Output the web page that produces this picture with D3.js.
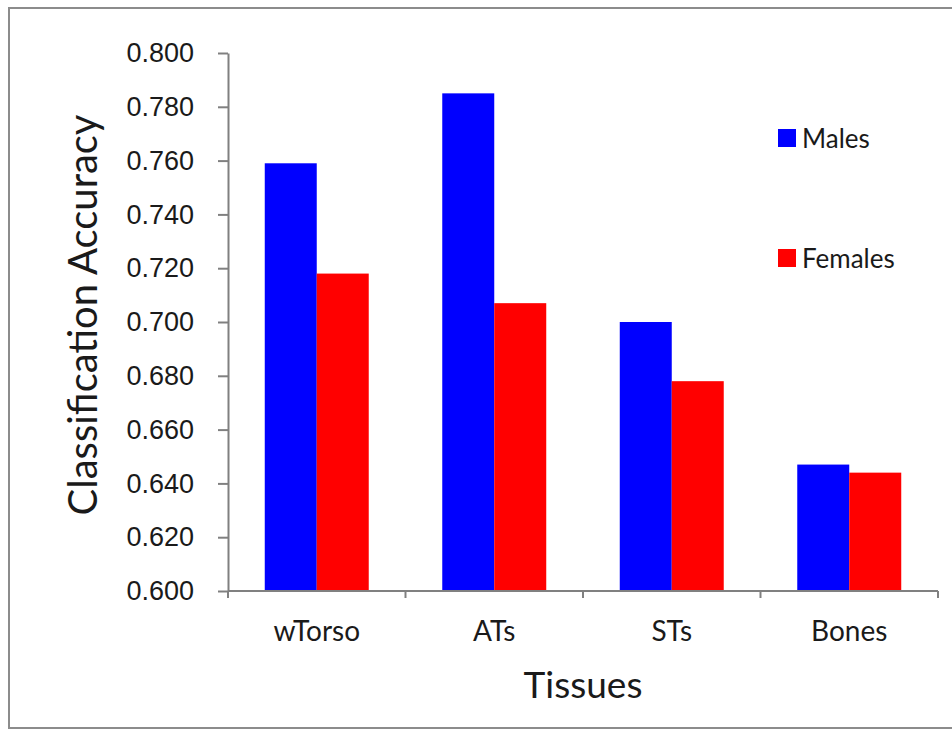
<!DOCTYPE html>
<html>
<head>
<meta charset="utf-8">
<script src="https://cdn.jsdelivr.net/npm/d3@7"></script>
<style>
  html, body { margin: 0; padding: 0; background: #fff; }
  svg { display: block; }
</style>
</head>
<body>
<svg id="chart" width="952" height="731"></svg>
<script>
const categories = ["wTorso", "ATs", "STs", "Bones"];
const seriesNames = ["Males", "Females"];
const malesValues = [0.759, 0.785, 0.700, 0.647];
const femalesValues = [0.718, 0.707, 0.678, 0.644];
const yTicks = [0.600, 0.620, 0.640, 0.660, 0.680, 0.700, 0.720, 0.740, 0.760, 0.780, 0.800];
const seriesColors = ["#0000ff", "#ff0000"];

const svg = d3.select("#chart");

// outer frame
svg.append("rect")
  .attr("x", 9).attr("y", 8)
  .attr("width", 960).attr("height", 720)
  .attr("fill", "#fff")
  .attr("stroke", "#8c8c8c")
  .attr("stroke-width", 2);

const plotLeft = 228, plotRight = 938, plotTop = 53, plotBottom = 591;

const y = d3.scaleLinear().domain([0.6, 0.8]).range([plotBottom, plotTop]);
const x0 = d3.scaleBand().domain(categories).range([plotLeft, plotRight]).padding(0);
const x1 = d3.scaleBand().domain(seriesNames).range([0, x0.bandwidth()])
  .paddingInner(0).paddingOuter(0.707);

const data = categories.map((c, i) => ({
  cat: c,
  vals: [
    { s: "Males", v: malesValues[i], color: seriesColors[0] },
    { s: "Females", v: femalesValues[i], color: seriesColors[1] }
  ]
}));

// bars
const groups = svg.append("g").selectAll("g").data(data).join("g")
  .attr("transform", d => `translate(${x0(d.cat)},0)`);
groups.selectAll("rect").data(d => d.vals).join("rect")
  .attr("x", d => x1(d.s))
  .attr("width", x1.bandwidth())
  .attr("y", d => y(d.v))
  .attr("height", d => y(0.6) - y(d.v))
  .attr("fill", d => d.color);

// y axis
const yAxis = svg.append("g")
  .attr("transform", `translate(${plotLeft},0)`)
  .call(d3.axisLeft(y).tickValues(yTicks).tickFormat(d3.format(".3f")).tickSize(10).tickSizeOuter(0).tickPadding(24));
yAxis.select(".domain").attr("stroke", "#808080").attr("stroke-width", 2);
yAxis.selectAll(".tick line").attr("stroke", "#808080").attr("stroke-width", 2);
yAxis.selectAll(".tick text")
  .attr("font-family", "'Liberation Sans', Arial, sans-serif")
  .attr("font-size", 27)
  .attr("fill", "#1a1a1a");

// x axis: baseline, boundary ticks, labels
const xAxis = svg.append("g").attr("transform", `translate(0,${plotBottom})`);
xAxis.append("line")
  .attr("x1", plotLeft).attr("x2", plotRight)
  .attr("stroke", "#808080").attr("stroke-width", 2);
const boundaries = categories.map(c => x0(c)).concat([x0(categories[categories.length - 1]) + x0.bandwidth()]);
xAxis.selectAll("line.btick").data(boundaries).join("line")
  .attr("class", "btick")
  .attr("x1", d => d).attr("x2", d => d)
  .attr("y1", 0).attr("y2", 7)
  .attr("stroke", "#808080").attr("stroke-width", 2);
xAxis.selectAll("text.cat").data(categories).join("text")
  .attr("class", "cat")
  .attr("x", d => x0(d) + x0.bandwidth() / 2)
  .attr("y", 50)
  .attr("text-anchor", "middle")
  .attr("font-family", "Lato, sans-serif")
  .attr("font-size", 28)
  .attr("fill", "#1a1a1a")
  .text(d => d);

// axis titles
svg.append("text")
  .attr("x", (plotLeft + plotRight) / 2)
  .attr("y", 698)
  .attr("text-anchor", "middle")
  .attr("font-family", "Lato, sans-serif")
  .attr("font-size", 37)
  .attr("fill", "#1a1a1a")
  .text("Tissues");

svg.append("text")
  .attr("transform", `translate(97,${(plotTop + plotBottom) / 2 - 7}) rotate(-90)`)
  .attr("text-anchor", "middle")
  .attr("font-family", "Lato, sans-serif")
  .attr("font-size", 40)
  .attr("fill", "#1a1a1a")
  .text("Classification Accuracy");

// legend
const legendY = [129, 249];
const legend = svg.append("g").selectAll("g").data(seriesNames).join("g")
  .attr("transform", (d, i) => `translate(778,${legendY[i]})`);
legend.append("rect")
  .attr("width", 18).attr("height", 18)
  .attr("fill", (d, i) => seriesColors[i]);
legend.append("text")
  .attr("x", 24).attr("y", 19)
  .attr("font-family", "Lato, sans-serif")
  .attr("font-size", 26)
  .attr("fill", "#1a1a1a")
  .text(d => d);
</script>
</body>
</html>
